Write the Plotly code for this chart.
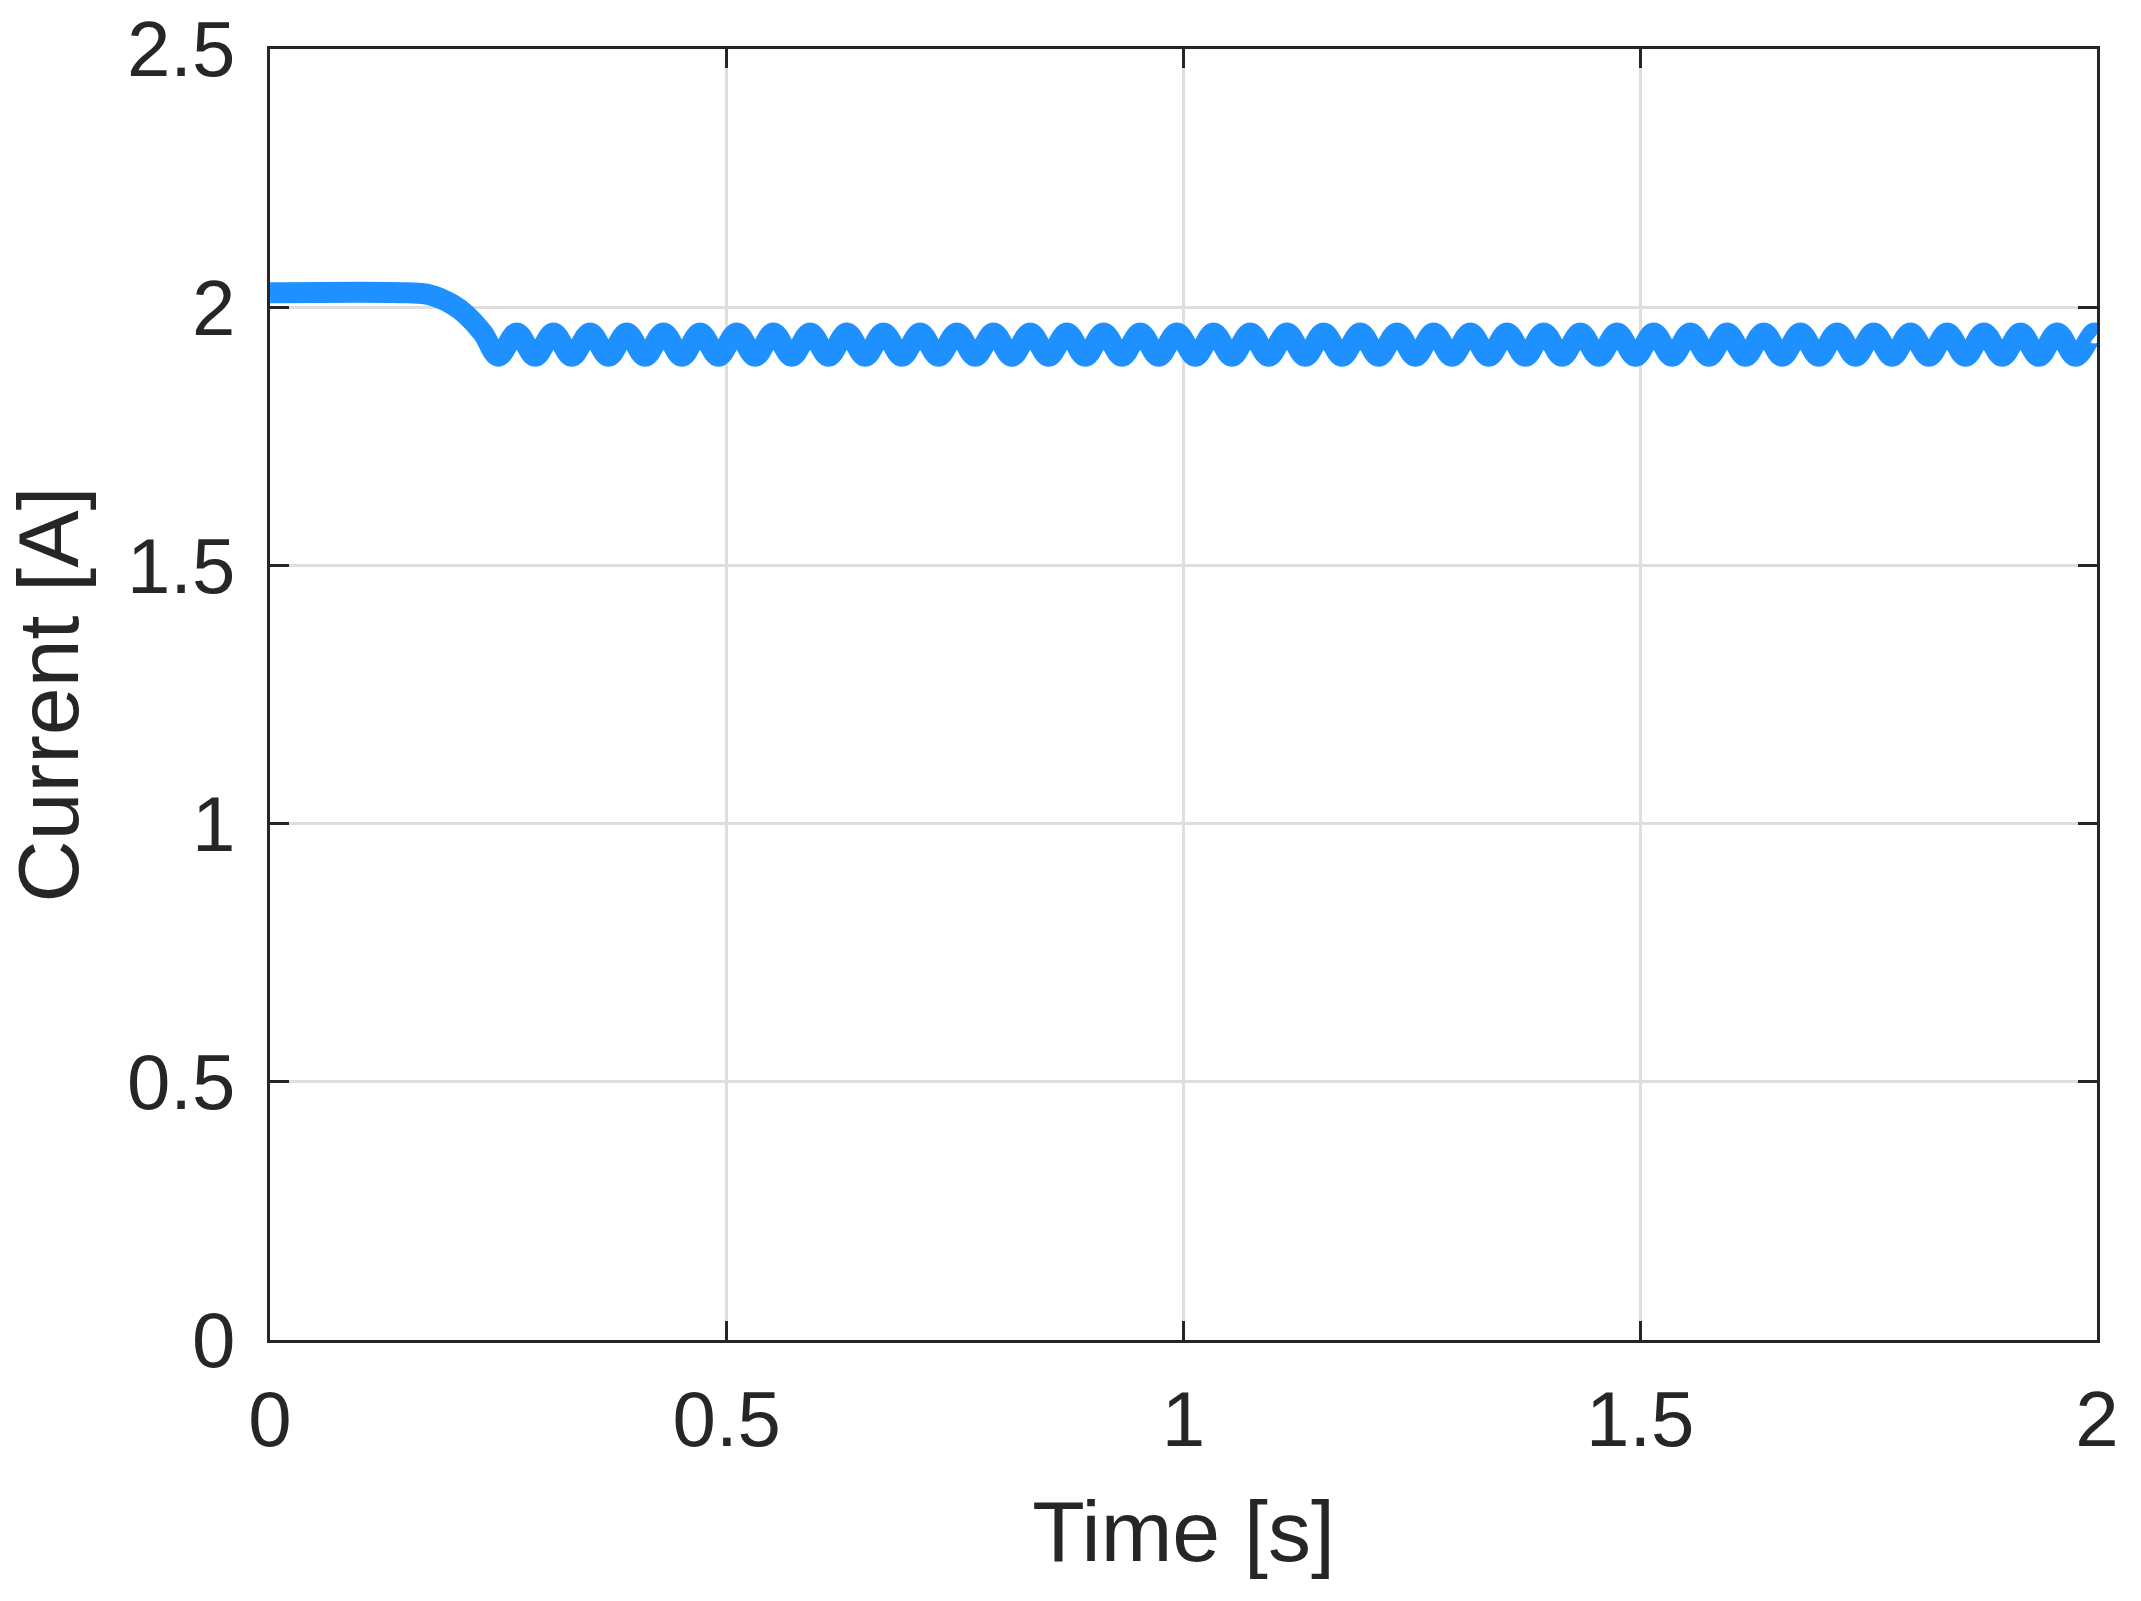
import plotly.graph_objects as go

# Time [s] and current [A]: initial plateau, drop,
# then the ripple given by its alternating troughs/peaks (smoothed with a spline)
time_s = [
    0.000, 0.150, 0.175, 0.200, 0.215, 0.233,
    0.2500, 0.2701, 0.2902, 0.3102, 0.3303, 0.3504, 0.3705, 0.3905, 0.4106, 0.4307,
    0.4508, 0.4708, 0.4909, 0.5110, 0.5311, 0.5511, 0.5712, 0.5913, 0.6114, 0.6314,
    0.6515, 0.6716, 0.6917, 0.7117, 0.7318, 0.7519, 0.7720, 0.7920, 0.8121, 0.8322,
    0.8523, 0.8723, 0.8924, 0.9125, 0.9326, 0.9526, 0.9727, 0.9928, 1.0129, 1.0329,
    1.0530, 1.0731, 1.0932, 1.1132, 1.1333, 1.1534, 1.1735, 1.1935, 1.2136, 1.2337,
    1.2538, 1.2738, 1.2939, 1.3140, 1.3341, 1.3541, 1.3742, 1.3943, 1.4144, 1.4344,
    1.4545, 1.4746, 1.4947, 1.5147, 1.5348, 1.5549, 1.5750, 1.5950, 1.6151, 1.6352,
    1.6553, 1.6753, 1.6954, 1.7155, 1.7356, 1.7556, 1.7757, 1.7958, 1.8159, 1.8359,
    1.8560, 1.8761, 1.8962, 1.9162, 1.9363, 1.9564, 1.9765, 1.9966, 2.0000,
]
current_a = [
    2.028, 2.028, 2.024, 2.005, 1.985, 1.950,
    1.905, 1.950, 1.905, 1.950, 1.905, 1.950, 1.905, 1.950, 1.905, 1.950,
    1.905, 1.950, 1.905, 1.950, 1.905, 1.950, 1.905, 1.950, 1.905, 1.950,
    1.905, 1.950, 1.905, 1.950, 1.905, 1.950, 1.905, 1.950, 1.905, 1.950,
    1.905, 1.950, 1.905, 1.950, 1.905, 1.950, 1.905, 1.950, 1.905, 1.950,
    1.905, 1.950, 1.905, 1.950, 1.905, 1.950, 1.905, 1.950, 1.905, 1.950,
    1.905, 1.950, 1.905, 1.950, 1.905, 1.950, 1.905, 1.950, 1.905, 1.950,
    1.905, 1.950, 1.905, 1.950, 1.905, 1.950, 1.905, 1.950, 1.905, 1.950,
    1.905, 1.950, 1.905, 1.950, 1.905, 1.950, 1.905, 1.950, 1.905, 1.950,
    1.905, 1.950, 1.905, 1.950, 1.905, 1.950, 1.905, 1.950, 1.948,
]

x_ticks = [0, 0.5, 1, 1.5, 2]
x_tick_labels = ["0", "0.5", "1", "1.5", "2"]
y_ticks = [0, 0.5, 1, 1.5, 2, 2.5]
y_tick_labels = ["0", "0.5", "1", "1.5", "2", "2.5"]

axis_color = "#262626"
font_family = "Liberation Sans, Arial, sans-serif"

fig = go.Figure()
fig.add_trace(go.Scatter(
    x=time_s, y=current_a, mode="lines",
    line=dict(color="#1E90FF", width=21, shape="spline", smoothing=1.0),
    showlegend=False,
))

common = dict(
    showline=True, linecolor=axis_color, linewidth=3, mirror="ticks",
    ticks="inside", ticklen=19, tickwidth=3, tickcolor=axis_color,
    showgrid=True, gridcolor="#dedede", gridwidth=3,
    zeroline=False, ticklabeloverflow="allow", automargin=False,
    tickfont=dict(family=font_family, size=78, color=axis_color),
)

fig.update_layout(
    width=2141, height=1601,
    margin=dict(l=270, r=44, t=49, b=261),
    paper_bgcolor="white", plot_bgcolor="white",
    font=dict(family=font_family, color=axis_color),
    xaxis=dict(
        range=[0, 2], tickvals=x_ticks, ticktext=x_tick_labels,
        title=dict(text="Time [s]", font=dict(family=font_family, size=86, color=axis_color), standoff=40),
        ticklabelstandoff=9,
        **common,
    ),
    yaxis=dict(
        range=[0, 2.5], tickvals=y_ticks, ticktext=y_tick_labels,
        title=dict(text="Current [A]", font=dict(family=font_family, size=86, color=axis_color), standoff=20),
        ticklabelstandoff=16,
        **common,
    ),
)

fig.write_html(
    "out.html",
    config={"displayModeBar": False},
    post_script="document.body.style.margin='0';document.body.style.overflow='hidden';",
)
